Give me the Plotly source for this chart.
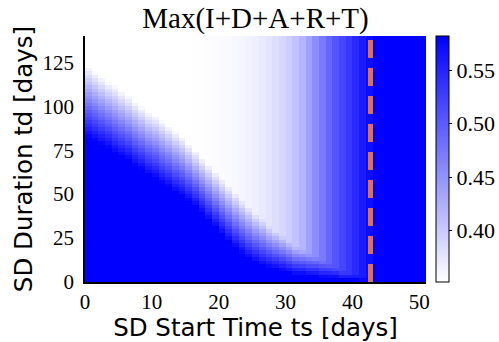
import plotly.graph_objects as go

# ---- data ----
ts_edges = list(range(0, 52))          # SD start time bins (51 columns)
td_edges = list(range(0, 142, 2))      # SD duration bins (70 rows)

# plateau value (long durations) for each start-time column ts = 0..50
plateau = [0.352, 0.352, 0.352, 0.352, 0.352, 0.352, 0.352, 0.352, 0.352, 0.352,
           0.352, 0.352, 0.352, 0.352, 0.352, 0.352, 0.353, 0.353, 0.354, 0.355,
           0.356, 0.357, 0.359, 0.361, 0.364, 0.367, 0.371, 0.376, 0.382, 0.389,
           0.397, 0.407, 0.420, 0.438, 0.455, 0.472, 0.490, 0.505, 0.519, 0.532,
           0.545, 0.558, 0.571, 0.582, 0.582, 0.582, 0.582, 0.582, 0.582, 0.582,
           0.582]
# duration below which the value is the full (no-intervention) maximum
td_blue = [82, 80, 78, 76, 73, 71, 69, 66, 64, 61,
           59, 56, 54, 51, 49, 46, 43, 39, 35, 31,
           27, 23, 19, 16, 13, 11, 9, 8, 7, 6,
           5, 4, 4, 3, 3, 2, 2, 2, 1, 1,
           1, 0, 0, 0, 0, 0, 0, 0, 0, 0,
           0]
# duration above which the plateau value is reached
td_white = [123, 120, 117, 114, 112, 109, 106, 103, 100, 97,
            95, 92, 89, 86, 83, 79, 75, 71, 67, 63,
            59, 55, 51, 47, 43, 39, 36, 32, 29, 26,
            23, 20, 18, 16, 14, 12, 10, 8, 6, 5,
            4, 3, 2, 0, 0, 0, 0, 0, 0, 0,
            0]
z_full = 0.582
threshold_ts = 42.7
z_min, z_max = 0.352, 0.582
cbar_ticks = [0.40, 0.45, 0.50, 0.55]

# ---- assemble table ----
z = []
for i in range(len(td_edges) - 1):
    td = (td_edges[i] + td_edges[i + 1]) / 2
    row = []
    for j in range(len(ts_edges) - 1):
        a, b, p = td_blue[j], td_white[j], plateau[j]
        if td <= a:
            v = z_full
        elif td >= b:
            v = p
        else:
            s = (td - a) / (b - a)
            v = z_full + (p - z_full) * s
        row.append(v)
    z.append(row)

serif = "Liberation Serif"
sans = "DejaVu Sans"

fig = go.Figure()
fig.add_trace(go.Heatmap(
    x=ts_edges, y=td_edges, z=z,
    zmin=z_min, zmax=z_max,
    colorscale=[[0, "#ffffff"], [1, "#0000ff"]],
    colorbar=dict(
        x=1.029, xanchor="left", xpad=0, y=0.5, yanchor="middle",
        len=1, lenmode="fraction", ypad=0, thickness=13,
        outlinecolor="black", outlinewidth=1,
        tickvals=cbar_ticks, tickformat=".2f",
        ticks="outside", ticklen=3, tickcolor="black",
        tickfont=dict(family=serif, size=22, color="black"),
    ),
    showscale=True,
))
fig.add_trace(go.Scatter(
    x=[threshold_ts, threshold_ts], y=[0, 140], mode="lines",
    line=dict(color="#E5703D", width=5, dash="18px,10px"),
    showlegend=False, hoverinfo="skip",
))

fig.update_layout(
    width=499, height=342,
    margin=dict(l=85, r=73, t=36, b=60, autoexpand=False),
    paper_bgcolor="white", plot_bgcolor="white",
    title=dict(text="Max(I+D+A+R+T)", x=0.512, xanchor="center",
               y=0.947, yanchor="middle", yref="container",
               font=dict(family=serif, size=29, color="black")),
    showlegend=False,
)
fig.update_xaxes(
    range=[0, 51], tickvals=[0, 10, 20, 30, 40, 50],
    showline=True, linecolor="black", linewidth=1.5, mirror=False,
    showgrid=False, zeroline=False, automargin=False,
    ticks="",
    tickfont=dict(family=serif, size=21, color="black"),
    title=dict(text="SD Start Time ts [days]", standoff=1,
               font=dict(family=sans, size=24.5, color="black")),
)
fig.update_yaxes(
    range=[0, 140], tickvals=[0, 25, 50, 75, 100, 125],
    showline=True, linecolor="black", linewidth=1.5, mirror=False,
    showgrid=False, zeroline=False, automargin=False,
    ticks="outside", ticklen=5, tickcolor="rgba(0,0,0,0)",
    tickfont=dict(family=serif, size=21, color="black"),
    title=dict(text="SD Duration td [days]", standoff=3,
               font=dict(family=sans, size=24.5, color="black")),
)

fig.write_html("out.html")
